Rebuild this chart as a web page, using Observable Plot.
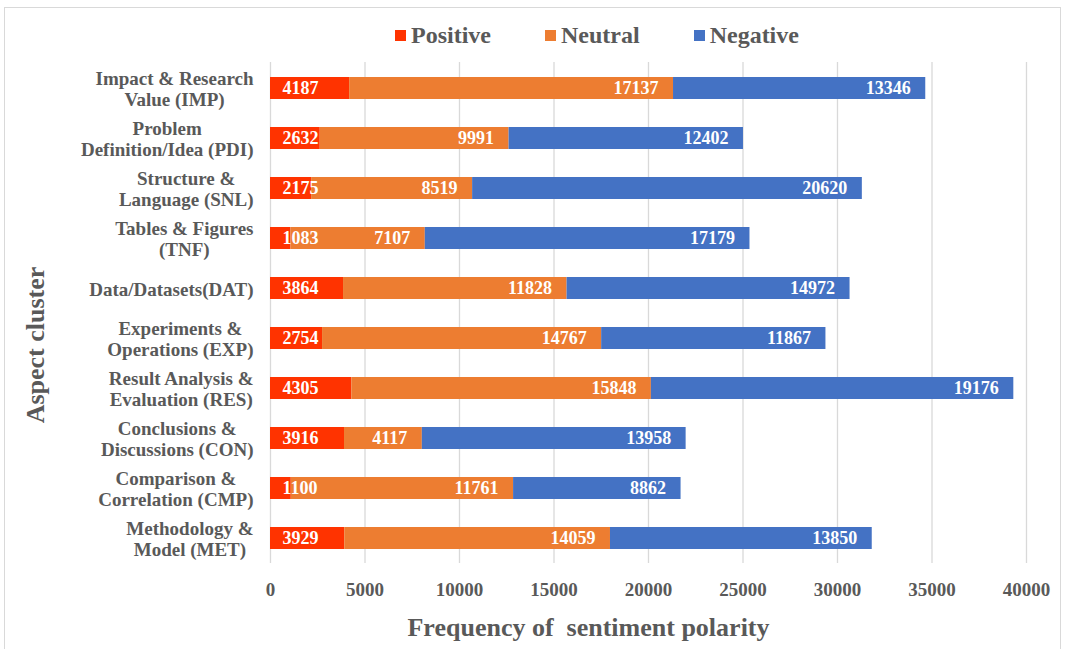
<!DOCTYPE html>
<html><head><meta charset="utf-8">
<script src="https://cdn.jsdelivr.net/npm/d3@7"></script>
<script src="https://cdn.jsdelivr.net/npm/@observablehq/plot@0.6"></script>
<style>
body{margin:0;background:#fff;}
#wrap{position:relative;width:1065px;height:649px;overflow:hidden;font-family:"Liberation Serif","Times New Roman",serif;}
#border{position:absolute;left:4px;top:7px;width:1057px;height:660px;border:1px solid #d9d9d9;box-sizing:border-box;}
#legend{position:absolute;top:22px;left:395px;display:flex;align-items:center;font-size:24px;font-weight:bold;color:#595959;white-space:nowrap;}
#legend .item{display:flex;align-items:center;margin-right:54px;}
#legend .sw{width:11px;height:11px;margin-right:5px;}
#chart{position:absolute;left:0;top:0;}
</style></head>
<body><div id="wrap"><div id="border"></div><div id="legend"></div><div id="chart"></div></div>
<script>
const categories = [
  "Impact & Research\nValue (IMP)",
  "Problem\nDefinition/Idea (PDI)",
  "Structure &\nLanguage (SNL)",
  "Tables & Figures\n(TNF)",
  "Data/Datasets(DAT)",
  "Experiments &\nOperations (EXP)",
  "Result Analysis &\nEvaluation (RES)",
  "Conclusions &\nDiscussions (CON)",
  "Comparison &\nCorrelation (CMP)",
  "Methodology &\nModel (MET)"
];
const sentiments = ["Positive", "Neutral", "Negative"];
const positive = [4187, 2632, 2175, 1083, 3864, 2754, 4305, 3916, 1100, 3929];
const neutral  = [17137, 9991, 8519, 7107, 11828, 14767, 15848, 4117, 11761, 14059];
const negative = [13346, 12402, 20620, 17179, 14972, 11867, 19176, 13958, 8862, 13850];
const colors = ["#FF3300", "#ED7D31", "#4472C4"];
const xTicks = [0, 5000, 10000, 15000, 20000, 25000, 30000, 35000, 40000];
const xTitle = "Frequency of\u00a0 sentiment polarity";
const yTitle = "Aspect cluster";

const series = [positive, neutral, negative];
const rows = [];
categories.forEach((c, i) => sentiments.forEach((s, j) => rows.push({category: c, sentiment: s, value: series[j][i]})));

// legend
const leg = document.getElementById("legend");
sentiments.forEach((s, j) => {
  const it = document.createElement("div"); it.className = "item";
  const sw = document.createElement("div"); sw.className = "sw"; sw.style.background = colors[j];
  const tx = document.createElement("span"); tx.textContent = s;
  it.append(sw, tx); leg.append(it);
});

const grey = "#595959";
const plot = Plot.plot({
  width: 1065, height: 649,
  marginLeft: 270, marginRight: 39, marginTop: 62, marginBottom: 86,
  style: {fontFamily: "'Liberation Serif', 'Times New Roman', serif", background: "transparent", overflow: "visible"},
  x: {domain: [0, 40000], ticks: xTicks},
  y: {domain: categories, paddingInner: 0.56, paddingOuter: 0.26},
  color: {domain: sentiments, range: colors},
  marks: [
    Plot.gridX(xTicks, {stroke: "#d9d9d9", strokeOpacity: 1, strokeWidth: 1.3}),
    Plot.barX(rows, Plot.stackX({x: "value", y: "category", fill: "sentiment", z: "sentiment"})),
    Plot.text(rows, Plot.stackX2({x: "value", y: "category", z: "sentiment",
      text: d => d.sentiment === "Positive" ? "" : String(d.value),
      textAnchor: "end", dx: -15, fill: "white", fontWeight: "bold", fontSize: 18})),
    Plot.text(rows, Plot.stackX1({x: "value", y: "category", z: "sentiment",
      text: d => d.sentiment === "Positive" ? String(d.value) : "",
      textAnchor: "start", dx: 12, fill: "white", fontWeight: "bold", fontSize: 18})),
    Plot.axisX({ticks: xTicks, tickSize: 0, tickPadding: 19, fontSize: 19, fontWeight: "bold", fill: grey, label: null, tickFormat: d => String(d)}),
    Plot.axisY({tickSize: 0, tickPadding: 17, fontSize: 19, fontWeight: "bold", fill: grey, label: null, lineHeight: 1.15}),
    Plot.text([xTitle], {frameAnchor: "bottom", dx: -60, dy: 72, fontSize: 26, fontWeight: "bold", fill: grey}),
    Plot.text([yTitle], {frameAnchor: "left", textAnchor: "middle", dx: -235, dy: 32, rotate: -90, fontSize: 26, fontWeight: "bold", fill: grey})
  ]
});
document.getElementById("chart").append(plot);
plot.querySelectorAll('g[aria-label="y-axis tick label"] text').forEach(t => {
  const spans = t.querySelectorAll("tspan");
  if (!spans.length) return;
  let w = 0;
  spans.forEach(s => { w = Math.max(w, s.getComputedTextLength()); });
  t.setAttribute("text-anchor", "middle");
  spans.forEach(s => s.setAttribute("x", -w / 2));
});
</script>
</body></html>
